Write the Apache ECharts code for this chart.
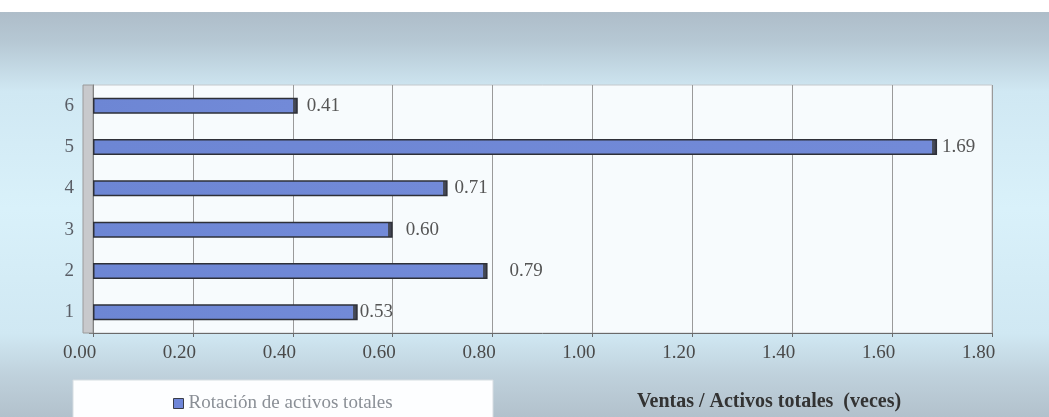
<!DOCTYPE html>
<html>
<head>
<meta charset="utf-8">
<script src="https://cdn.jsdelivr.net/npm/echarts@6/dist/echarts.min.js"></script>
<style>
  html, body { margin: 0; padding: 0; background: #ffffff; }
  #chart { width: 1049px; height: 417px; }
</style>
</head>
<body>
<div id="chart"></div>
<script>
// Categories (bottom to top) and asset turnover values
const categories = ['1', '2', '3', '4', '5', '6'];
const values = [0.53, 0.79, 0.60, 0.71, 1.69, 0.41];
// Space between each bar end and its value label
const labelGaps = [2, 22, 13, 7, 5, 9];
const seriesName = 'Rotación de activos totales';
const axisTitle = 'Ventas / Activos totales  (veces)';

const SERIF = '"Liberation Serif", "DejaVu Serif", serif';
const PX_PER_UNIT = 500; // plot width / axis range (900px / 1.8)

const chart = echarts.init(document.getElementById('chart'), null, { renderer: 'canvas' });

// Bar fill: blue body with a dark end face
function barFill(v) {
  const cap = Math.max(0, 1 - 5 / (v * PX_PER_UNIT));
  return new echarts.graphic.LinearGradient(0, 0, 1, 0, [
    { offset: 0, color: '#6d86d4' },
    { offset: cap, color: '#728ad8' },
    { offset: cap, color: '#4a4f60' },
    { offset: 1, color: '#3a3d48' }
  ]);
}

const option = {
  animation: false,
  backgroundColor: 'transparent',
  graphic: [
    {
      type: 'rect', z: -10, silent: true,
      shape: { x: 0, y: 0, width: 1049, height: 417 },
      style: {
        fill: new echarts.graphic.LinearGradient(0, 0, 0, 1, [
          { offset: 0, color: '#ffffff' },
          { offset: 0.028, color: '#ffffff' },
          { offset: 0.03, color: '#aebdc9' },
          { offset: 0.1, color: '#b6c8d4' },
          { offset: 0.22, color: '#d0e8f3' },
          { offset: 0.5, color: '#d9f1fa' },
          { offset: 0.8, color: '#d0e8f3' },
          { offset: 0.9, color: '#bfd1dc' },
          { offset: 1, color: '#b2c1cc' }
        ])
      }
    },
    {
      // side wall of the plot
      type: 'rect', z: 1, silent: true,
      shape: { x: 83, y: 85, width: 10, height: 248 },
      style: { fill: '#c8c9cc', stroke: '#9a9a9a', lineWidth: 1 }
    },
    {
      // legend box
      type: 'rect', z: 1, silent: true,
      shape: { x: 73, y: 380, width: 420, height: 40 },
      style: { fill: '#fdfeff', stroke: '#d6dde2', lineWidth: 1 }
    }
  ],
  title: {
    text: axisTitle,
    left: 764, top: 387,
    textAlign: 'center',
    textStyle: { fontFamily: SERIF, fontSize: 20, fontWeight: 'bold', color: '#333333' }
  },
  legend: {
    data: [seriesName],
    left: 168, top: 389,
    itemWidth: 10, itemHeight: 10, itemGap: 7,
    icon: 'rect',
    textStyle: { fontFamily: SERIF, fontSize: 19, color: '#8a8f96' },
    itemStyle: { borderColor: '#3a3d48', borderWidth: 1 }
  },
  grid: {
    left: 93, right: 57, top: 85, bottom: 84,
    show: true, backgroundColor: '#f7fbfd', borderColor: '#c4c8cc', borderWidth: 1,
    containLabel: false
  },
  xAxis: {
    type: 'value',
    min: 0, max: 1.8, interval: 0.2,
    axisLine: { show: true, lineStyle: { color: '#6a6a6a', width: 1 } },
    axisTick: { show: true, length: 4, lineStyle: { color: '#6a6a6a' } },
    splitLine: { show: true, lineStyle: { color: '#9a9a9a', width: 1 } },
    axisLabel: {
      formatter: v => v.toFixed(2),
      fontFamily: SERIF, fontSize: 19, color: '#4a4a4a',
      margin: 11,
      padding: [0, 27, 0, 0]
    }
  },
  yAxis: {
    type: 'category',
    data: categories,
    offset: 10,
    axisLine: { show: true, lineStyle: { color: '#6a6a6a', width: 1 } },
    axisTick: { show: true, length: 4, lineStyle: { color: '#6a6a6a' } },
    axisLabel: { fontFamily: SERIF, fontSize: 19, color: '#5a5e66', margin: 9 }
  },
  series: [{
    name: seriesName,
    type: 'bar',
    barWidth: 16,
    data: values.map((v, i) => ({
      value: v,
      itemStyle: { color: barFill(v) },
      label: { distance: labelGaps[i] }
    })),
    itemStyle: { color: '#6f86d8', borderColor: '#2e3038', borderWidth: 1.5 },
    label: {
      show: true,
      position: 'right',
      formatter: p => p.value.toFixed(2),
      fontFamily: SERIF, fontSize: 19, color: '#555555'
    },
    z: 3
  }]
};

chart.setOption(option);
</script>
</body>
</html>
